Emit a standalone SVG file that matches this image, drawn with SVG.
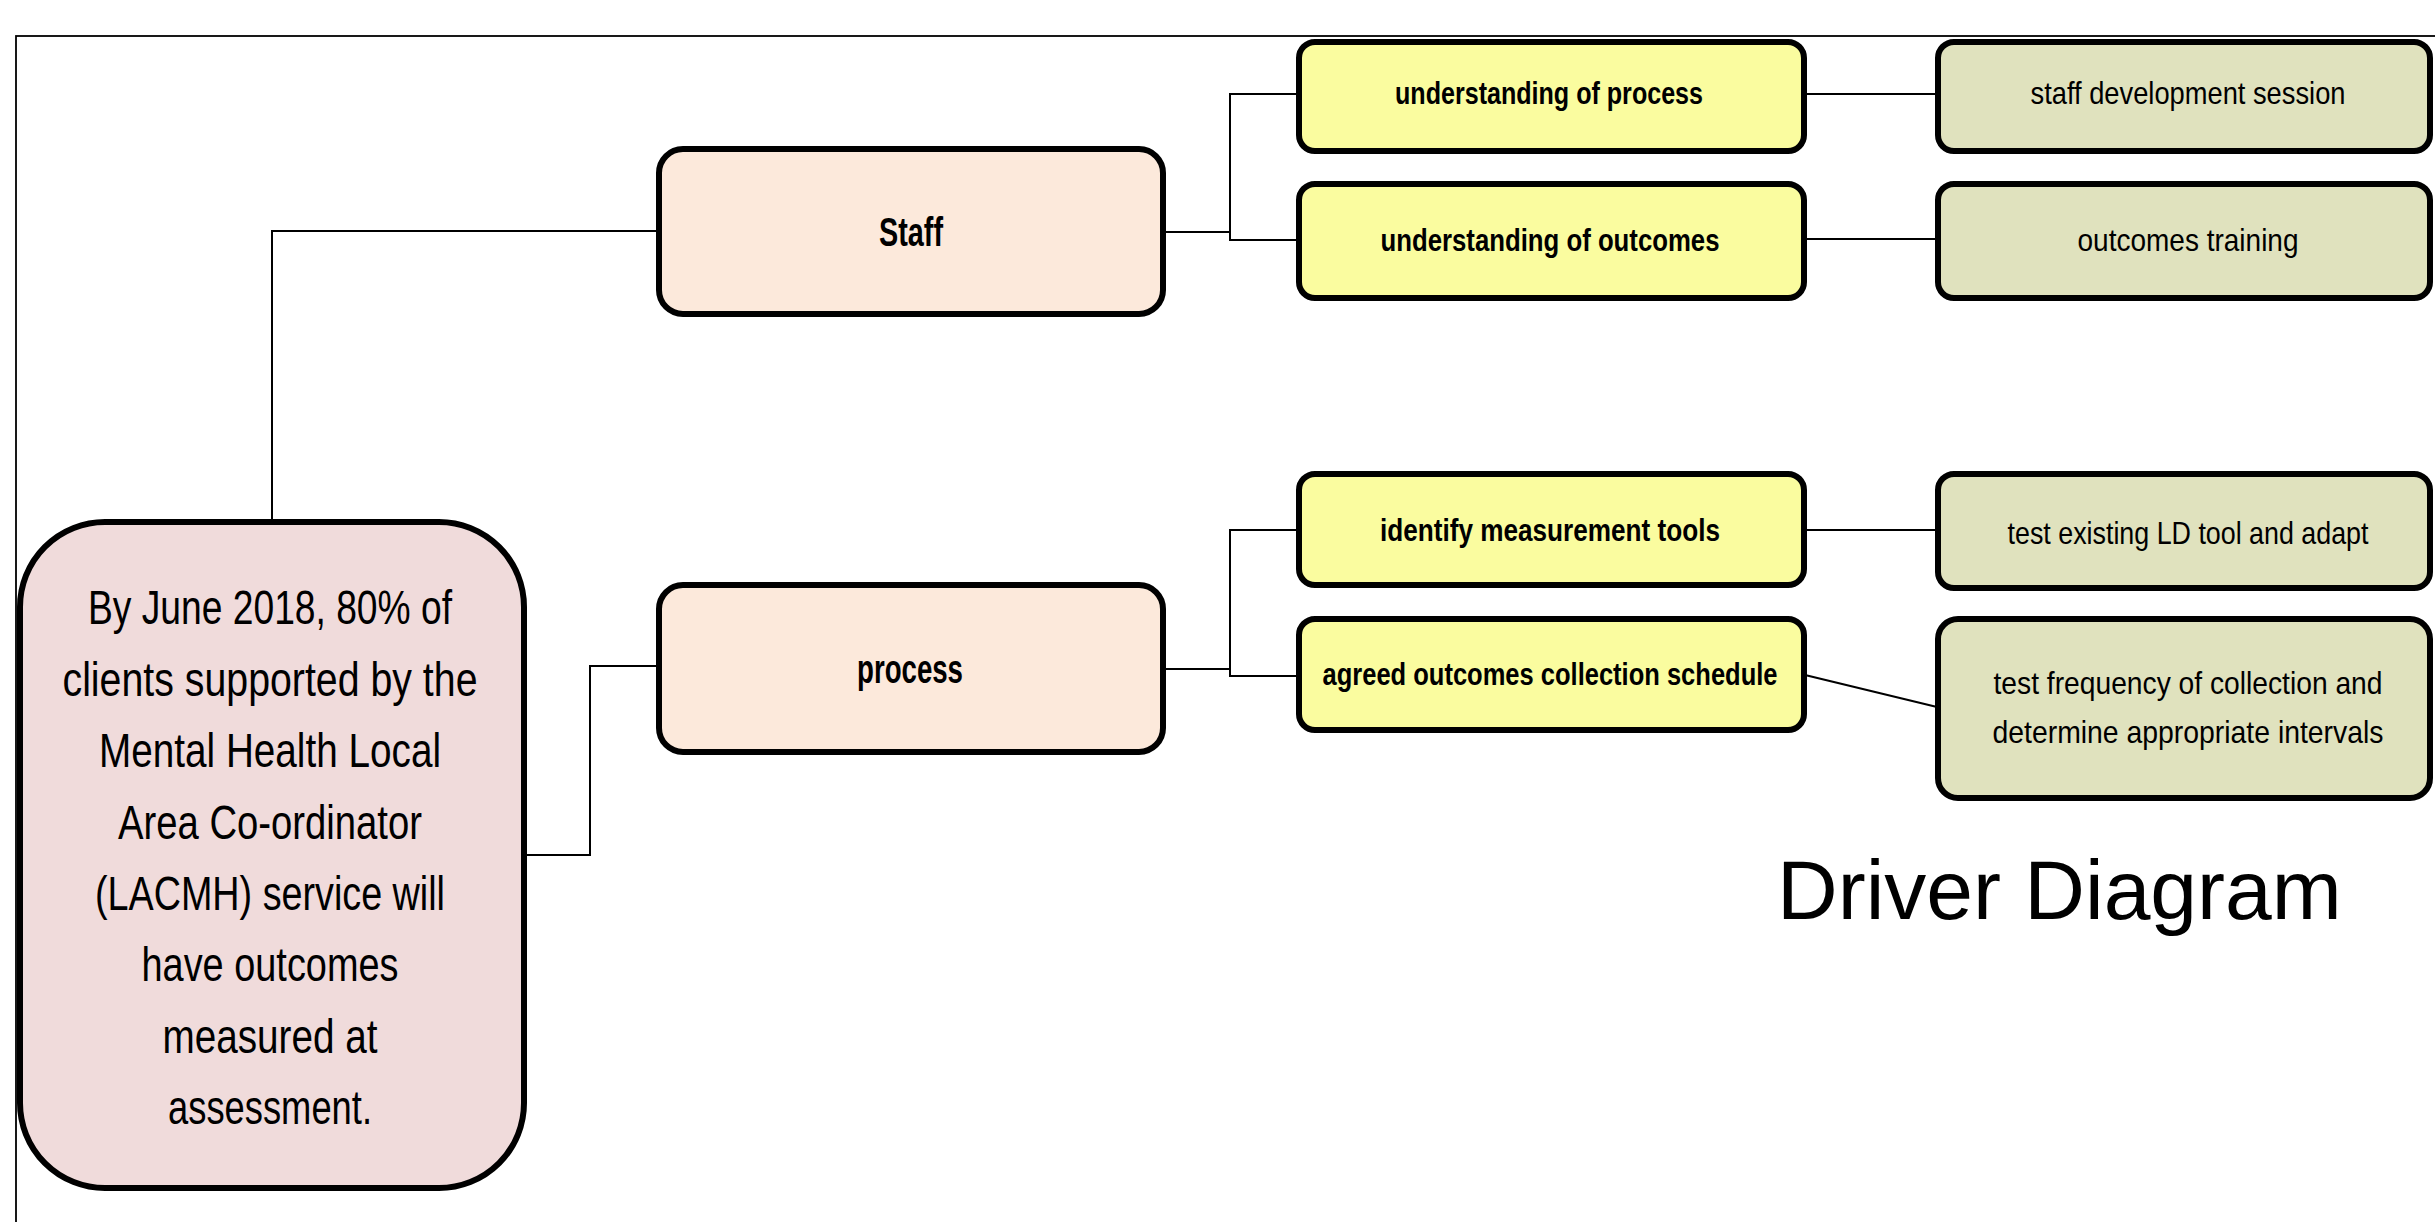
<svg xmlns="http://www.w3.org/2000/svg" width="2435" height="1222" viewBox="0 0 2435 1222">
<style>
  .frame{fill:none;stroke:#000;stroke-width:1.8}
  .con{fill:none;stroke:#000;stroke-width:2}
  .box{stroke:#000;stroke-width:6}
  .goal{fill:#f0dbdb}
  .drv{fill:#fce9db}
  .sec{fill:#fafc9f}
  .act{fill:#e0e2be}
  text{font-family:"Liberation Sans",Arial,sans-serif;fill:#000}
  .gt{font-size:48px;text-anchor:middle}
  .dt{font-size:41px;font-weight:bold;text-anchor:middle}
  .st{font-size:32px;font-weight:bold;text-anchor:middle}
  .at{font-size:32px;text-anchor:middle}
  .title{font-size:84px}
</style>
<rect class="frame" x="16" y="36" width="2500" height="1300"/>
<g id="connectors">
  <polyline class="con" points="272,522 272,231 658,231"/>
  <polyline class="con" points="525,855 590,855 590,666 658,666"/>
  <polyline class="con" points="1163,232 1230,232"/>
  <polyline class="con" points="1298,94 1230,94 1230,240 1298,240"/>
  <polyline class="con" points="1163,669 1230,669"/>
  <polyline class="con" points="1298,530 1230,530 1230,676 1298,676"/>
  <line class="con" x1="1805" y1="94" x2="1937" y2="94"/>
  <line class="con" x1="1805" y1="239" x2="1937" y2="239"/>
  <line class="con" x1="1805" y1="530" x2="1937" y2="530"/>
  <line class="con" x1="1805" y1="675" x2="1937" y2="707"/>
</g>
<g id="goal">
  <rect class="box goal" x="20" y="522" width="504" height="666" rx="85" ry="85"/>
  <text class="gt" x="270" y="624" textLength="364" lengthAdjust="spacingAndGlyphs">By June 2018, 80% of</text>
  <text class="gt" x="270" y="696" textLength="415" lengthAdjust="spacingAndGlyphs">clients supported by the</text>
  <text class="gt" x="270" y="767" textLength="342" lengthAdjust="spacingAndGlyphs">Mental Health Local</text>
  <text class="gt" x="270" y="839" textLength="304" lengthAdjust="spacingAndGlyphs">Area Co-ordinator</text>
  <text class="gt" x="270" y="910" textLength="350" lengthAdjust="spacingAndGlyphs">(LACMH) service will</text>
  <text class="gt" x="270" y="981" textLength="257" lengthAdjust="spacingAndGlyphs">have outcomes</text>
  <text class="gt" x="270" y="1053" textLength="215" lengthAdjust="spacingAndGlyphs">measured  at</text>
  <text class="gt" x="270" y="1124" textLength="204" lengthAdjust="spacingAndGlyphs">assessment.</text>
</g>
<g id="staff">
  <rect class="box drv" x="659" y="149" width="504" height="165" rx="24" ry="24"/>
  <text class="dt" x="911" y="246" textLength="64" lengthAdjust="spacingAndGlyphs">Staff</text>
</g>
<g id="process">
  <rect class="box drv" x="659" y="585" width="504" height="167" rx="24" ry="24"/>
  <text class="dt" x="910" y="683" textLength="106" lengthAdjust="spacingAndGlyphs">process</text>
</g>
<g id="understanding-process">
  <rect class="box sec" x="1299" y="42" width="505" height="109" rx="16" ry="16"/>
  <text class="st" x="1549" y="104" textLength="308" lengthAdjust="spacingAndGlyphs">understanding of process</text>
</g>
<g id="understanding-outcomes">
  <rect class="box sec" x="1299" y="184" width="505" height="114" rx="16" ry="16"/>
  <text class="st" x="1550" y="251" textLength="339" lengthAdjust="spacingAndGlyphs">understanding of outcomes</text>
</g>
<g id="identify-tools">
  <rect class="box sec" x="1299" y="474" width="505" height="111" rx="16" ry="16"/>
  <text class="st" x="1550" y="541" textLength="340" lengthAdjust="spacingAndGlyphs">identify measurement tools</text>
</g>
<g id="agreed-schedule">
  <rect class="box sec" x="1299" y="619" width="505" height="111" rx="16" ry="16"/>
  <text class="st" x="1550" y="685" textLength="455" lengthAdjust="spacingAndGlyphs">agreed outcomes collection schedule</text>
</g>
<g id="staff-development">
  <rect class="box act" x="1938" y="42" width="492" height="109" rx="16" ry="16"/>
  <text class="at" x="2188" y="104" textLength="315" lengthAdjust="spacingAndGlyphs">staff development session</text>
</g>
<g id="outcomes-training">
  <rect class="box act" x="1938" y="184" width="492" height="114" rx="16" ry="16"/>
  <text class="at" x="2188" y="251" textLength="221" lengthAdjust="spacingAndGlyphs">outcomes training</text>
</g>
<g id="test-ld-tool">
  <rect class="box act" x="1938" y="474" width="492" height="114" rx="16" ry="16"/>
  <text class="at" x="2188" y="544" textLength="361" lengthAdjust="spacingAndGlyphs">test existing LD tool and adapt</text>
</g>
<g id="test-frequency">
  <rect class="box act" x="1938" y="619" width="492" height="179" rx="20" ry="20"/>
  <text class="at" x="2188" y="694" textLength="389" lengthAdjust="spacingAndGlyphs">test frequency of  collection and</text>
  <text class="at" x="2188" y="743" textLength="391" lengthAdjust="spacingAndGlyphs">determine appropriate  intervals</text>
</g>
<text class="title" x="1777" y="919">Driver Diagram</text>
</svg>
